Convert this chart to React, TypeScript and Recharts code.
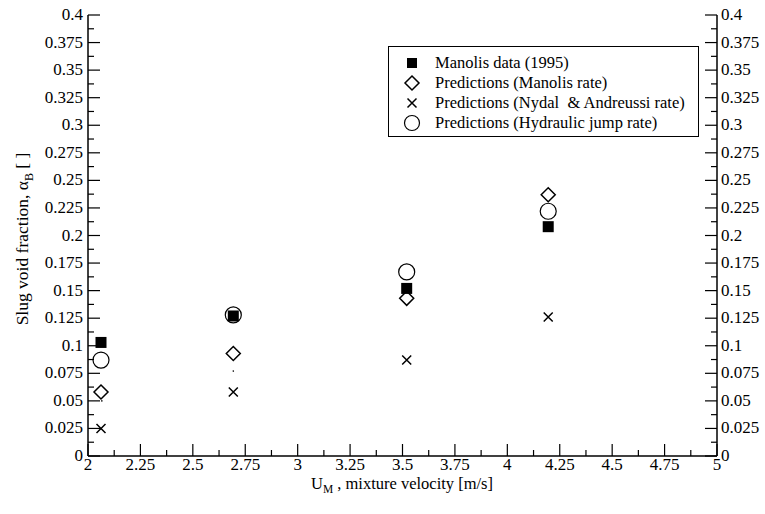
import { ScatterChart, Scatter, XAxis, YAxis } from 'recharts'

// mixture velocity U_M [m/s] and slug void fraction alpha_B
const manolisData = [
  { u: 2.062, a: 0.103 },
  { u: 2.693, a: 0.127 },
  { u: 3.52, a: 0.152 },
  { u: 4.195, a: 0.208 },
]
const manolisRate = [
  { u: 2.062, a: 0.058 },
  { u: 2.693, a: 0.093 },
  { u: 3.52, a: 0.143 },
  { u: 4.195, a: 0.237 },
]
const nydalRate = [
  { u: 2.062, a: 0.025 },
  { u: 2.693, a: 0.058 },
  { u: 3.52, a: 0.087 },
  { u: 4.195, a: 0.126 },
]
const jumpRate = [
  { u: 2.062, a: 0.087 },
  { u: 2.693, a: 0.128 },
  { u: 3.52, a: 0.167 },
  { u: 4.195, a: 0.222 },
]
// stray plotting dots
const strayDots = [
  { u: 2.066, a: 0.05 },
  { u: 2.693, a: 0.077 },
]

const xMajor = [2, 2.25, 2.5, 2.75, 3, 3.25, 3.5, 3.75, 4, 4.25, 4.5, 4.75, 5]
const yMajor = [
  0, 0.025, 0.05, 0.075, 0.1, 0.125, 0.15, 0.175, 0.2, 0.225, 0.25, 0.275,
  0.3, 0.325, 0.35, 0.375, 0.4,
]

// add a minor tick halfway between each pair of major ticks
const withMinor = (major: number[]) =>
  major.flatMap((v, i) => (i < major.length - 1 ? [v, (v + major[i + 1]) / 2] : [v]))
const xTicks = withMinor(xMajor)
const yTicks = withMinor(yMajor)

const FONT = '"Liberation Serif", "Times New Roman", serif'
const TICK_FONT = 17
const MAJOR_LEN = 12
const MINOR_LEN = 6

const isMajor = (v: number, list: number[]) => list.some((m) => Math.abs(m - v) < 1e-9)

const BottomTick = (props: any) => {
  const { x, y, payload } = props
  const major = isMajor(payload.value, xMajor)
  return (
    <g>
      <line x1={x} x2={x} y1={y} y2={y - (major ? MAJOR_LEN : MINOR_LEN)} stroke="#000" strokeWidth={1.2} />
      {major && (
        <text x={x} y={y + 14} textAnchor="middle" fontSize={TICK_FONT} fontFamily={FONT} fill="#000">
          {String(payload.value)}
        </text>
      )}
    </g>
  )
}

const TopTick = (props: any) => {
  const { x, y, payload } = props
  const major = isMajor(payload.value, xMajor)
  return <line x1={x} x2={x} y1={y} y2={y + (major ? MAJOR_LEN : MINOR_LEN)} stroke="#000" strokeWidth={1.2} />
}

const LeftTick = (props: any) => {
  const { x, y, payload } = props
  const major = isMajor(payload.value, yMajor)
  return (
    <g>
      <line x1={x} x2={x + (major ? MAJOR_LEN : MINOR_LEN)} y1={y} y2={y} stroke="#000" strokeWidth={1.2} />
      {major && (
        <text x={x - 5} y={y + 5} textAnchor="end" fontSize={TICK_FONT} fontFamily={FONT} fill="#000">
          {String(payload.value)}
        </text>
      )}
    </g>
  )
}

const RightTick = (props: any) => {
  const { x, y, payload } = props
  const major = isMajor(payload.value, yMajor)
  return (
    <g>
      <line x1={x} x2={x - (major ? MAJOR_LEN : MINOR_LEN)} y1={y} y2={y} stroke="#000" strokeWidth={1.2} />
      {major && (
        <text x={x + 4} y={y + 5} textAnchor="start" fontSize={TICK_FONT} fontFamily={FONT} fill="#000">
          {String(payload.value)}
        </text>
      )}
    </g>
  )
}

// marker shapes
const SquareMark = ({ cx, cy }: any) => <rect x={cx - 5.5} y={cy - 5.5} width={11} height={11} fill="#000" />
const DiamondMark = ({ cx, cy }: any) => (
  <path d={`M${cx},${cy - 7}L${cx + 7},${cy}L${cx},${cy + 7}L${cx - 7},${cy}Z`} fill="none" stroke="#000" strokeWidth={1.5} />
)
const CrossMark = ({ cx, cy }: any) => (
  <path d={`M${cx - 4.5},${cy - 4.5}L${cx + 4.5},${cy + 4.5}M${cx + 4.5},${cy - 4.5}L${cx - 4.5},${cy + 4.5}`} stroke="#000" strokeWidth={1.5} />
)
const CircleMark = ({ cx, cy }: any) => <circle cx={cx} cy={cy} r={8} fill="none" stroke="#000" strokeWidth={1.2} />
const DotMark = ({ cx, cy }: any) => <circle cx={cx} cy={cy} r={0.8} fill="#000" />

const legendItems = [
  { name: 'Manolis data (1995)', icon: (cx: number, cy: number) => <rect x={cx - 5} y={cy - 5} width={10} height={10} fill="#000" /> },
  { name: 'Predictions (Manolis rate)', icon: (cx: number, cy: number) => <DiamondMark cx={cx} cy={cy} /> },
  { name: 'Predictions (Nydal  & Andreussi rate)', icon: (cx: number, cy: number) => <CrossMark cx={cx} cy={cy} /> },
  { name: 'Predictions (Hydraulic jump rate)', icon: (cx: number, cy: number) => <circle cx={cx} cy={cy} r={7.5} fill="none" stroke="#000" strokeWidth={1.2} /> },
]

const LegendBox = () => (
  <div
    style={{
      position: 'absolute',
      left: 388,
      top: 46,
      boxSizing: 'border-box',
      border: '1.3px solid #000',
      background: '#fff',
      width: 311,
      height: 91,
      padding: '6px 0 0 0',
      fontFamily: FONT,
      fontSize: 16.5,
      color: '#000',
    }}
  >
    {legendItems.map((item) => (
      <div key={item.name} style={{ display: 'flex', alignItems: 'center', height: 20 }}>
        <svg width={46} height={20} style={{ flex: 'none', display: 'block' }}>
          {item.icon(23, 10)}
        </svg>
        <span style={{ whiteSpace: 'pre', lineHeight: '20px' }}>{item.name}</span>
      </div>
    ))}
  </div>
)

const XTitle = () => (
  <text x={402} y={489} textAnchor="middle" fontSize={16.5} fontFamily={FONT} fill="#000">
    U<tspan dy={4} fontSize={11.5}>M</tspan>
    <tspan dy={-4}> , mixture velocity [m/s]</tspan>
  </text>
)

const YTitle = () => (
  <text x={0} y={0} transform="translate(28,239) rotate(-90)" textAnchor="middle" fontSize={17.5} fontFamily={FONT} fill="#000">
    Slug void fraction, α<tspan dy={5} fontSize={12}>B</tspan>
    <tspan dy={-5}> [ ]</tspan>
  </text>
)

export default function App() {
  return (
    <div style={{ position: 'absolute', left: 0, top: 0, width: 765, height: 514, background: '#fff' }}>
      <ScatterChart width={765} height={514} margin={{ top: 15, right: 0, bottom: 0, left: 0 }}>
        <XAxis
          xAxisId="bottom"
          dataKey="u"
          type="number"
          domain={[2, 5]}
          ticks={xTicks}
          interval={0}
          height={58}
          tickSize={0}
          tickMargin={0}
          tickLine={false}
          tick={<BottomTick />}
          axisLine={{ stroke: '#000', strokeWidth: 1.5 }}
          allowDataOverflow
          label={{ content: () => <XTitle /> }}
        />
        <XAxis
          xAxisId="top"
          orientation="top"
          dataKey="u"
          type="number"
          domain={[2, 5]}
          ticks={xTicks}
          interval={0}
          height={0}
          tickSize={0}
          tickMargin={0}
          tickLine={false}
          tick={<TopTick />}
          axisLine={{ stroke: '#000', strokeWidth: 1.5 }}
          allowDataOverflow
        />
        <YAxis
          yAxisId="left"
          dataKey="a"
          type="number"
          domain={[0, 0.4]}
          ticks={yTicks}
          interval={0}
          width={88}
          tickSize={0}
          tickMargin={0}
          tickLine={false}
          tick={<LeftTick />}
          axisLine={{ stroke: '#000', strokeWidth: 1.5 }}
          allowDataOverflow
          label={{ content: () => <YTitle /> }}
        />
        <YAxis
          yAxisId="right"
          orientation="right"
          dataKey="a"
          type="number"
          domain={[0, 0.4]}
          ticks={yTicks}
          interval={0}
          width={48}
          tickSize={0}
          tickMargin={0}
          tickLine={false}
          tick={<RightTick />}
          axisLine={{ stroke: '#000', strokeWidth: 1.5 }}
          allowDataOverflow
        />
        <Scatter name="Manolis data (1995)" data={manolisData} xAxisId="bottom" yAxisId="left" shape={SquareMark} isAnimationActive={false} />
        <Scatter name="Predictions (Manolis rate)" data={manolisRate} xAxisId="bottom" yAxisId="left" shape={DiamondMark} isAnimationActive={false} />
        <Scatter name="Predictions (Nydal  & Andreussi rate)" data={nydalRate} xAxisId="bottom" yAxisId="left" shape={CrossMark} isAnimationActive={false} />
        <Scatter name="Predictions (Hydraulic jump rate)" data={jumpRate} xAxisId="bottom" yAxisId="left" shape={CircleMark} isAnimationActive={false} />
        <Scatter name="dots" data={strayDots} xAxisId="bottom" yAxisId="left" shape={DotMark} legendType="none" isAnimationActive={false} />
      </ScatterChart>
      <LegendBox />
    </div>
  )
}
